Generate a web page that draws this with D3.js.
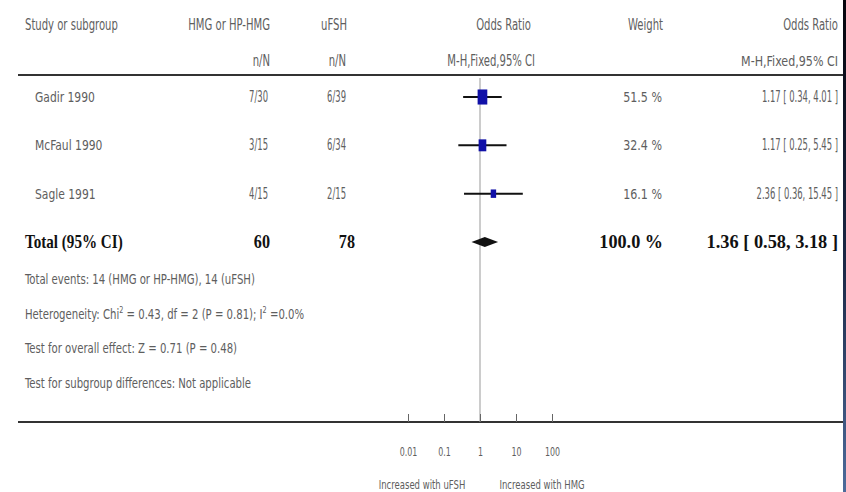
<!DOCTYPE html>
<html>
<head>
<meta charset="utf-8">
<script src="https://cdn.jsdelivr.net/npm/d3@7"></script>
<style>
  body { margin: 0; background: #fff; }
  text { font-family: "DejaVu Sans Condensed", "DejaVu Sans", sans-serif; fill: #5e5e5e; }
  .bold { font-family: "Liberation Serif", "DejaVu Serif", serif; font-weight: bold; fill: #111; }
</style>
</head>
<body>
<svg width="846" height="492"></svg>
<script>
const svg = d3.select('svg');
const width = +(svg.attr('width'));
const height = +(svg.attr('height'));

// data
const studies = ['Gadir 1990', 'McFaul 1990', 'Sagle 1991'];
const hmgEvents = ['7/30', '3/15', '4/15'];
const ufshEvents = ['6/39', '6/34', '2/15'];
const oddsRatio = [1.17, 1.17, 2.36];
const ciLow = [0.34, 0.25, 0.36];
const ciHigh = [4.01, 5.45, 15.45];
const weights = [51.5, 32.4, 16.1];
const total = { hmg: 60, ufsh: 78, weight: 100.0, or: 1.36, lo: 0.58, hi: 3.18 };
const axisTicks = [0.01, 0.1, 1, 10, 100];
const footnotes = [
  'Total events: 14 (HMG or HP-HMG), 14 (uFSH)',
  'Heterogeneity: Chi|2| = 0.43, df = 2 (P = 0.81); I|2| =0.0%',
  'Test for overall effect: Z = 0.71 (P = 0.48)',
  'Test for subgroup differences: Not applicable'
];

// scales
const x = d3.scaleLog().domain([0.01, 100]).range([408, 552]);
const y = d3.scaleLinear().domain([0, 3]).range([97, 242]);
const sqW = d3.scaleSqrt().domain([0, 100]).range([0, 13.5]);
const sqH = d3.scaleSqrt().domain([0, 100]).range([0, 21]);

const fmt = d3.format('.2f');

// narrow, tall-looking text like the scanned original
function label(parent, px, py, str, anchor, size, sx, sy) {
  return parent.append('text')
    .attr('transform', `translate(${px},${py}) scale(${sx || 0.86},${sy || 1.15})`)
    .attr('text-anchor', anchor || 'start')
    .attr('font-size', size || 12.5)
    .text(str);
}

// header
const head = svg.append('g');
label(head, 25, 30, 'Study or subgroup', 'start', 13);
label(head, 270, 30, 'HMG or HP-HMG', 'end', 13);
label(head, 347, 30, 'uFSH', 'end', 13);
label(head, 531, 30, 'Odds Ratio', 'end', 13);
label(head, 663, 30, 'Weight', 'end', 13);
label(head, 838, 30, 'Odds Ratio', 'end', 13);
label(head, 270, 66, 'n/N', 'end', 13);
label(head, 346, 66, 'n/N', 'end', 13);
label(head, 535, 66, 'M-H,Fixed,95% CI', 'end', 13);
label(head, 838, 66, 'M-H,Fixed,95% CI', 'end', 13, 0.95);

// rules
svg.append('line').attr('x1', 18).attr('x2', 843).attr('y1', 75).attr('y2', 75)
  .attr('stroke', '#333').attr('stroke-width', 2);
svg.append('line').attr('x1', 18).attr('x2', 843).attr('y1', 422).attr('y2', 422)
  .attr('stroke', '#333').attr('stroke-width', 2);

// line of no effect
svg.append('line').attr('x1', x(1)).attr('x2', x(1)).attr('y1', 78).attr('y2', 422)
  .attr('stroke', '#999').attr('stroke-width', 1);

// study rows
const rows = svg.append('g');
studies.forEach((s, i) => {
  const ry = y(i);
  label(rows, 35, ry + 5, s, 'start', 13, 0.92);
  label(rows, 268, ry + 5, hmgEvents[i], 'end', 13, 0.72, 1.25);
  label(rows, 346, ry + 5, ufshEvents[i], 'end', 13, 0.72, 1.25);
  label(rows, 662, ry + 5, weights[i].toFixed(1) + ' %', 'end', 13, 0.95);
  label(rows, 838, ry + 5, `${fmt(oddsRatio[i])} [ ${fmt(ciLow[i])}, ${fmt(ciHigh[i])} ]`, 'end', 13, 0.72, 1.25);

  rows.append('line').attr('x1', x(ciLow[i])).attr('x2', x(ciHigh[i]))
    .attr('y1', ry).attr('y2', ry).attr('stroke', '#111').attr('stroke-width', 2);
  rows.append('rect')
    .attr('x', x(oddsRatio[i]) - sqW(weights[i]) / 2)
    .attr('y', ry - sqH(weights[i]) / 2)
    .attr('width', sqW(weights[i]))
    .attr('height', sqH(weights[i]))
    .attr('fill', '#1010a8');
});

// total row
const ty = y(3);
const tot = svg.append('g');
label(tot, 25, ty + 6, 'Total (95% CI)', 'start', 17, 0.89, 1.05).attr('class', 'bold');
label(tot, 270, ty + 6, total.hmg, 'end', 17, 0.95, 1.05).attr('class', 'bold');
label(tot, 355, ty + 6, total.ufsh, 'end', 17, 0.95, 1.05).attr('class', 'bold');
label(tot, 663, ty + 6, total.weight.toFixed(1) + ' %', 'end', 17, 1.07, 1.05).attr('class', 'bold');
label(tot, 838, ty + 6, `${fmt(total.or)} [ ${fmt(total.lo)}, ${fmt(total.hi)} ]`, 'end', 17, 1.08, 1.05)
  .attr('class', 'bold');

const diamond = d3.line()([
  [x(total.lo), ty], [x(total.or), ty - 5], [x(total.hi), ty], [x(total.or), ty + 5]
]);
svg.append('path').attr('d', diamond + 'Z').attr('fill', '#111');

// footnotes
const foot = svg.append('g');
footnotes.forEach((f, i) => {
  const t = label(foot, 25, 284 + i * 34.5, '', 'start', 12.5, 0.9);
  f.split('|').forEach((part, j) => {
    const sp = t.append('tspan').text(part);
    if (j % 2 === 1) sp.attr('baseline-shift', 'super').attr('font-size', 8);
  });
});

// axis
const axis = d3.axisBottom(x)
  .tickValues(axisTicks)
  .tickFormat(d => d)
  .tickSize(-8)
  .tickPadding(23);
const axG = svg.append('g').attr('transform', 'translate(0,422)').call(axis);
axG.select('.domain').remove();
axG.selectAll('.tick line').attr('stroke', '#666');
axG.selectAll('.tick text')
  .attr('font-family', '"DejaVu Sans Condensed", "DejaVu Sans", sans-serif')
  .attr('font-size', 11).attr('fill', '#5e5e5e')
  .attr('transform', 'scale(0.8,1.1)')
  .attr('x', 0);

label(svg, x(0.1) - 22, 489, 'Increased with uFSH', 'middle', 11, 0.86);
label(svg, x(10) + 26, 489, 'Increased with HMG', 'middle', 11, 0.86);

// right border strip
const grad = svg.append('defs').append('linearGradient').attr('id', 'edge')
  .attr('x1', 0).attr('x2', 0).attr('y1', 0).attr('y2', 1);
grad.append('stop').attr('offset', '0%').attr('stop-color', '#05050c');
grad.append('stop').attr('offset', '55%').attr('stop-color', '#1d2a48');
grad.append('stop').attr('offset', '100%').attr('stop-color', '#4d6b9b');
svg.append('rect').attr('x', 843).attr('y', 0).attr('width', 3).attr('height', height)
  .attr('fill', 'url(#edge)');
</script>
</body>
</html>
